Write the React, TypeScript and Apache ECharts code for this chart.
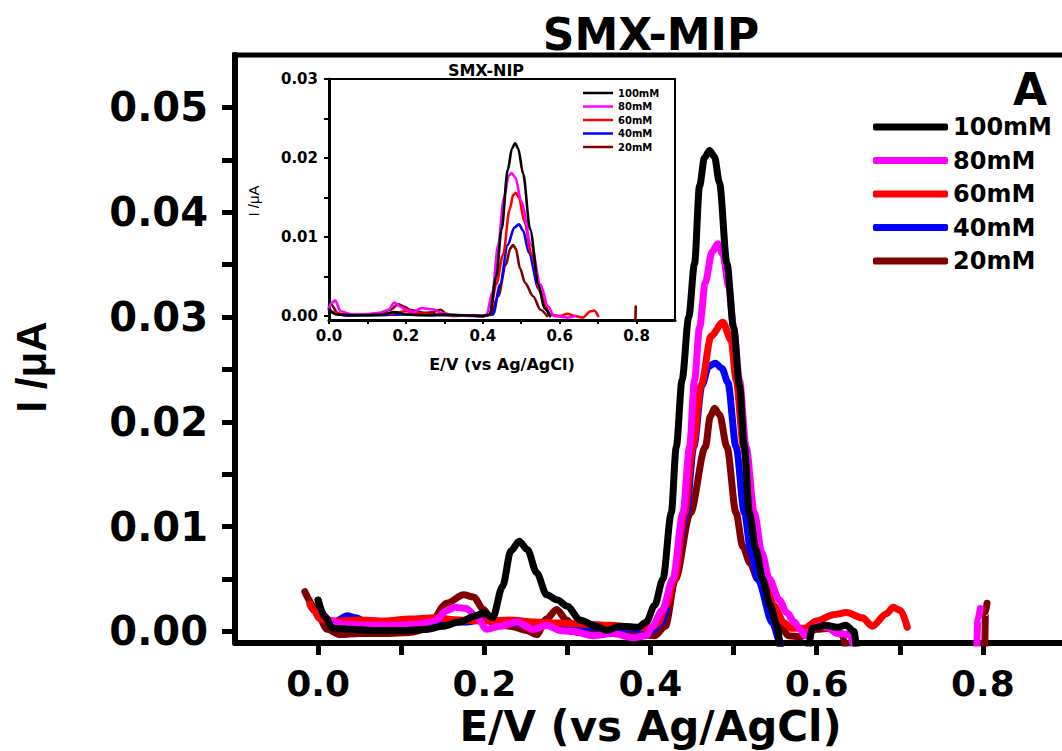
import React, { useEffect, useRef } from "react";
import * as echarts from "echarts";

// ---- Series names / colours ----
const SERIES_NAMES = ["100mM", "80mM", "60mM", "40mM", "20mM"];
const SERIES_COLORS = ["#000000", "#FF00FF", "#FF0000", "#0000FF", "#800000"];

// ---- Main chart (SMX-MIP): [E (V), I (µA)] ----
const mip100: (number | null)[][] = [
  [0.0, 0.003], [0.008, 0.0014], [0.018, 0.0003], [0.04, 0.0002], [0.07, 0.0001], [0.1, 0.0001],
  [0.13, 0.0002], [0.15, 0.0005], [0.17, 0.0009], [0.19, 0.0015], [0.2, 0.0018], [0.21, 0.0013],
  [0.222, 0.0043], [0.232, 0.0077], [0.242, 0.0086], [0.252, 0.0078], [0.263, 0.0056], [0.275, 0.0035],
  [0.288, 0.003], [0.3, 0.0024], [0.315, 0.0011], [0.335, 0.0005], [0.347, 0.0001], [0.363, 0.0005],
  [0.385, 0.0004], [0.395, 0.0009], [0.405, 0.0025], [0.415, 0.005], [0.425, 0.0113], [0.431, 0.0176],
  [0.438, 0.024], [0.446, 0.03], [0.453, 0.0351], [0.459, 0.0425], [0.465, 0.0452], [0.471, 0.0459],
  [0.477, 0.0453], [0.483, 0.0428], [0.492, 0.0351], [0.5, 0.029], [0.507, 0.0235], [0.513, 0.0176],
  [0.519, 0.0113], [0.527, 0.0078], [0.535, 0.005], [0.544, 0.0025], [0.552, 0.0006], [0.56, -0.004],
  [0.585, -0.004], [0.595, 0.0003], [0.61, 0.0006], [0.625, 0.0004], [0.635, 0.0006], [0.645, 0.0],
  [0.65, -0.004],
];
const mip80: (number | null)[][] = [
  [0.003, 0.002], [0.015, 0.001], [0.03, 0.0007], [0.06, 0.0006], [0.09, 0.0006], [0.12, 0.0007],
  [0.14, 0.001], [0.155, 0.002], [0.165, 0.0023], [0.178, 0.0022], [0.19, 0.0015], [0.203, 0.0002],
  [0.219, 0.0005], [0.239, 0.0009], [0.259, 0.0002], [0.275, 0.0006], [0.291, 0.0001], [0.307, 0.0],
  [0.331, -0.0004], [0.355, -0.0002], [0.379, -0.0006], [0.395, -0.0004], [0.402, 0.0005], [0.414, 0.002],
  [0.427, 0.005], [0.439, 0.0113], [0.447, 0.0176], [0.453, 0.024], [0.459, 0.029], [0.466, 0.0333],
  [0.474, 0.0362], [0.481, 0.037], [0.487, 0.036], [0.494, 0.033], [0.5, 0.029], [0.507, 0.024],
  [0.515, 0.0176], [0.525, 0.0113], [0.534, 0.0075], [0.543, 0.005], [0.555, 0.003], [0.564, 0.0018],
  [0.573, 0.0009], [0.58, 0.0002], [0.586, -0.0004], [0.595, 0.0002], [0.603, 0.0006], [0.612, 0.0004],
  [0.625, -0.0002], [0.64, -0.0003], [0.65, -0.004], [0.7, null], [0.792, -0.004], [0.794, 0.0012],
  [0.797, 0.0022],
];
const mip60: (number | null)[][] = [
  [-0.01, 0.0026], [-0.005, 0.002], [0.002, 0.0012], [0.02, 0.001], [0.05, 0.0011], [0.08, 0.001],
  [0.11, 0.0012], [0.14, 0.0013], [0.17, 0.0011], [0.2, 0.001], [0.23, 0.0011], [0.26, 0.0009],
  [0.29, 0.0008], [0.32, 0.0007], [0.35, 0.0006], [0.38, 0.0004], [0.4, 0.0003], [0.409, 0.0008],
  [0.419, 0.0025], [0.429, 0.005], [0.441, 0.0113], [0.451, 0.0176], [0.461, 0.0235], [0.473, 0.0282],
  [0.487, 0.0295], [0.497, 0.0278], [0.503, 0.024], [0.512, 0.0176], [0.521, 0.0113], [0.529, 0.0075],
  [0.537, 0.005], [0.548, 0.0025], [0.561, 0.0008], [0.57, 0.0003], [0.585, 0.0003], [0.6, 0.001],
  [0.62, 0.0016], [0.636, 0.0018], [0.655, 0.0013], [0.667, 0.0005], [0.684, 0.0017], [0.692, 0.0023],
  [0.701, 0.002], [0.709, 0.0004],
];
const mip40: (number | null)[][] = [
  [0.0, 0.003], [0.008, 0.0012], [0.02, 0.0009], [0.035, 0.0015], [0.045, 0.0013], [0.06, 0.0008],
  [0.09, 0.0007], [0.12, 0.0008], [0.15, 0.0009], [0.18, 0.0009], [0.2, 0.0012], [0.23, 0.0008],
  [0.26, 0.0006], [0.29, 0.0006], [0.32, 0.0004], [0.35, 0.0004], [0.38, 0.0002], [0.4, 0.0],
  [0.413, 0.0008], [0.428, 0.005], [0.443, 0.0113], [0.452, 0.0176], [0.462, 0.0235], [0.47, 0.0253],
  [0.478, 0.0256], [0.486, 0.0251], [0.493, 0.0238], [0.503, 0.0176], [0.513, 0.0113], [0.521, 0.0075],
  [0.529, 0.005], [0.547, 0.0008], [0.555, -0.0008], [0.56, -0.004],
];
const mip20: (number | null)[][] = [
  [-0.016, 0.0038], [-0.004, 0.0023], [0.011, 0.0002], [0.026, -0.0003], [0.05, -0.0002], [0.08, -0.0002],
  [0.11, -0.0001], [0.13, 0.0002], [0.155, 0.0027], [0.175, 0.0035], [0.187, 0.0033], [0.199, 0.0021],
  [0.21, 0.0008], [0.231, 0.0005], [0.251, 0.0001], [0.263, -0.0003], [0.275, 0.0012], [0.287, 0.0021],
  [0.299, 0.0011], [0.311, -0.0001], [0.34, -0.0001], [0.37, -0.0002], [0.405, -0.0004], [0.418, 0.0005],
  [0.43, 0.005], [0.448, 0.0113], [0.466, 0.0176], [0.472, 0.0205], [0.477, 0.0213], [0.483, 0.0207],
  [0.492, 0.0176], [0.503, 0.0113], [0.511, 0.0081], [0.52, 0.0065], [0.529, 0.005], [0.547, 0.0018],
  [0.559, 0.0002], [0.566, -0.0004], [0.58, -0.0005], [0.6, 0.0002], [0.615, 0.0003], [0.63, -0.0002],
  [0.64, -0.004], [0.7, null], [0.802, -0.004], [0.803, 0.0018], [0.805, 0.0027],
];

// ---- Inset (SMX-NIP): [E (V), I (µA)] ----
const nip100: (number | null)[][] = [
  [0.0, 0.0008], [0.02, 0.0002], [0.06, 0.0001], [0.1, 0.0001], [0.14, 0.0002], [0.17, 0.0005],
  [0.2, 0.0002], [0.25, 0.0001], [0.3, 0.0002], [0.35, 0.0001], [0.4, 0.0], [0.418, 0.0002],
  [0.435, 0.005], [0.449, 0.011], [0.465, 0.0185], [0.476, 0.0212], [0.484, 0.0219], [0.492, 0.0212],
  [0.505, 0.018], [0.523, 0.011], [0.545, 0.004], [0.56, 0.001], [0.575, 0.0],
];
const nip80: (number | null)[][] = [
  [0.0, 0.001], [0.008, 0.0017], [0.016, 0.002], [0.03, 0.0006], [0.06, 0.0002], [0.1, 0.0002],
  [0.13, 0.0004], [0.155, 0.0008], [0.17, 0.0017], [0.185, 0.0012], [0.2, 0.0008], [0.22, 0.0005],
  [0.24, 0.001], [0.26, 0.0009], [0.275, 0.0008], [0.29, 0.0004], [0.32, 0.0001], [0.36, 0.0001],
  [0.4, 0.0], [0.41, 0.0002], [0.425, 0.003], [0.44, 0.009], [0.455, 0.015], [0.468, 0.0178],
  [0.475, 0.0181], [0.485, 0.0175], [0.5, 0.0145], [0.526, 0.009], [0.55, 0.004], [0.57, 0.0012],
  [0.585, 0.0], [0.62, -0.0002], [0.64, 0.0],
];
const nip60: (number | null)[][] = [
  [0.0, 0.0008], [0.01, 0.0005], [0.04, 0.0002], [0.08, 0.0002], [0.12, 0.0003], [0.16, 0.0003],
  [0.2, 0.0006], [0.24, 0.0003], [0.28, 0.0002], [0.32, 0.0001], [0.36, 0.0001], [0.4, 0.0],
  [0.418, 0.0002], [0.435, 0.004], [0.453, 0.0078], [0.47, 0.0135], [0.479, 0.0153], [0.486, 0.0156],
  [0.494, 0.015], [0.508, 0.012], [0.527, 0.0078], [0.55, 0.003], [0.575, 0.0002], [0.6, 0.0],
  [0.62, 0.0003], [0.64, 0.0], [0.66, -0.0002], [0.68, 0.0006], [0.69, 0.0007], [0.7, 0.0],
];
const nip40: (number | null)[][] = [
  [0.0, 0.001], [0.01, 0.0004], [0.04, 0.0001], [0.1, 0.0001], [0.2, 0.0002], [0.3, 0.0001],
  [0.4, 0.0], [0.427, 0.0002], [0.445, 0.004], [0.465, 0.009], [0.482, 0.0112], [0.494, 0.0116],
  [0.505, 0.0108], [0.52, 0.008], [0.545, 0.0035], [0.565, 0.0008], [0.575, 0.0],
];
const nip20: (number | null)[][] = [
  [0.0, 0.0012], [0.005, 0.0015], [0.025, 0.0002], [0.06, 0.0001], [0.1, 0.0002], [0.13, 0.0003],
  [0.16, 0.0008], [0.18, 0.0015], [0.195, 0.0012], [0.21, 0.0008], [0.25, 0.0004], [0.27, 0.0005],
  [0.29, 0.0008], [0.305, 0.0003], [0.32, 0.0], [0.36, 0.0001], [0.4, 0.0], [0.42, 0.0002],
  [0.44, 0.0025], [0.46, 0.0065], [0.472, 0.0086], [0.479, 0.009], [0.486, 0.0085], [0.497, 0.006],
  [0.51, 0.0042], [0.531, 0.0025], [0.55, 0.0008], [0.567, 0.0], [0.7, null], [0.797, -0.0005],
  [0.798, 0.0012],
];

const MIP_DATA = [mip100, mip80, mip60, mip40, mip20];
const NIP_DATA = [nip100, nip80, nip60, nip40, nip20];

// ---- Ticks / labels ----
const MAIN_X_LABELS = [0, 0.2, 0.4, 0.6, 0.8];
const MAIN_X_TICKS = [0, 0.1, 0.2, 0.3, 0.4, 0.5, 0.6, 0.7, 0.8];
const MAIN_Y_LABELS = [0, 0.01, 0.02, 0.03, 0.04, 0.05];
const MAIN_Y_TICKS = [0, 0.005, 0.01, 0.015, 0.02, 0.025, 0.03, 0.035, 0.04, 0.045, 0.05];
const INSET_X_LABELS = [0, 0.2, 0.4, 0.6, 0.8];
const INSET_X_TICKS = [0, 0.1, 0.2, 0.3, 0.4, 0.5, 0.6, 0.7, 0.8];
const INSET_Y_LABELS = [0, 0.01, 0.02, 0.03];
const INSET_Y_TICKS = [0, 0.005, 0.01, 0.015, 0.02, 0.025, 0.03];

const FONT = "DejaVu Sans";

export default function App() {
  const ref = useRef<HTMLDivElement>(null);

  useEffect(() => {
    if (!ref.current) return;
    const chart = echarts.init(ref.current, undefined, { renderer: "svg" });

    const drawOrder = [4, 3, 2, 1, 0]; // 20mM first, 100mM on top
    const series: any[] = [];
    drawOrder.forEach((i) => {
      series.push({
        name: SERIES_NAMES[i],
        type: "line",
        xAxisIndex: 0,
        yAxisIndex: 0,
        data: MIP_DATA[i],
        showSymbol: false,
        symbol: "none",
        smooth: 0.3,
        smoothMonotone: "x",
        connectNulls: false,
        clip: true,
        color: SERIES_COLORS[i],
        itemStyle: { color: SERIES_COLORS[i] },
        lineStyle: { color: SERIES_COLORS[i], width: 7, cap: "round", join: "round" },
      });
    });
    drawOrder.forEach((i) => {
      series.push({
        name: SERIES_NAMES[i],
        type: "line",
        xAxisIndex: 1,
        yAxisIndex: 1,
        data: NIP_DATA[i],
        showSymbol: false,
        symbol: "none",
        smooth: 0.3,
        smoothMonotone: "x",
        connectNulls: false,
        clip: true,
        color: SERIES_COLORS[i],
        itemStyle: { color: SERIES_COLORS[i] },
        lineStyle: { color: SERIES_COLORS[i], width: 2.6, cap: "round", join: "round" },
      });
    });

    const boldText = (size: number) => ({
      fontFamily: FONT,
      fontWeight: "bold" as const,
      fontSize: size,
      color: "#000",
    });

    chart.setOption({
      animation: false,
      backgroundColor: "#ffffff",
      grid: [
        {
          left: 235,
          top: 55,
          width: 831,
          height: 588,
          show: false,
          containLabel: false,
          outerBoundsMode: "none",
        },
        {
          left: 329,
          top: 79,
          width: 346,
          height: 241,
          show: true,
          borderColor: "#000",
          borderWidth: 2,
          backgroundColor: "#ffffff",
          containLabel: false,
          outerBoundsMode: "none",
        },
      ],
      xAxis: [
        {
          gridIndex: 0,
          type: "value",
          min: -0.1,
          max: 0.9,
          axisLine: { show: true, onZero: false, lineStyle: { color: "#000", width: 6 } },
          axisTick: {
            show: true,
            customValues: MAIN_X_TICKS,
            length: 12,
            lineStyle: { color: "#000", width: 5 },
          },
          axisLabel: {
            show: true,
            customValues: MAIN_X_LABELS,
            formatter: (v: number) => v.toFixed(1),
            margin: 22,
            ...boldText(36),
          },
          splitLine: { show: false },
          name: "E/V (vs Ag/AgCl)",
          nameLocation: "middle",
          nameGap: 62,
          nameTextStyle: boldText(42),
        },
        {
          gridIndex: 1,
          type: "value",
          min: 0,
          max: 0.9,
          axisLine: { show: true, onZero: false, lineStyle: { color: "#000", width: 3 } },
          axisTick: {
            show: true,
            customValues: INSET_X_TICKS,
            length: 4,
            lineStyle: { color: "#000", width: 2 },
          },
          axisLabel: {
            show: true,
            customValues: INSET_X_LABELS,
            formatter: (v: number) => v.toFixed(1),
            margin: 8,
            ...boldText(15),
          },
          splitLine: { show: false },
          name: "E/V (vs Ag/AgCl)",
          nameLocation: "middle",
          nameGap: 36,
          nameTextStyle: boldText(16),
        },
      ],
      yAxis: [
        {
          gridIndex: 0,
          type: "value",
          min: -0.0011,
          max: 0.055,
          axisLine: { show: true, onZero: false, lineStyle: { color: "#000", width: 6 } },
          axisTick: {
            show: true,
            customValues: MAIN_Y_TICKS,
            length: 13,
            lineStyle: { color: "#000", width: 5 },
          },
          axisLabel: {
            show: true,
            customValues: MAIN_Y_LABELS,
            formatter: (v: number) => v.toFixed(2),
            margin: 27,
            ...boldText(40),
          },
          splitLine: { show: false },
        },
        {
          gridIndex: 1,
          type: "value",
          min: -0.0005,
          max: 0.03,
          axisLine: { show: true, onZero: false, lineStyle: { color: "#000", width: 3 } },
          axisTick: {
            show: true,
            customValues: INSET_Y_TICKS,
            length: 5,
            lineStyle: { color: "#000", width: 2 },
          },
          axisLabel: {
            show: true,
            customValues: INSET_Y_LABELS,
            formatter: (v: number) => v.toFixed(2),
            margin: 11,
            ...boldText(15),
          },
          splitLine: { show: false },
        },
      ],
      legend: [
        {
          data: SERIES_NAMES,
          orient: "vertical",
          left: 873,
          top: 115,
          padding: 0,
          itemWidth: 75,
          itemHeight: 7,
          itemGap: 9.5,
          icon: "roundRect",
          selectedMode: false,
          textStyle: { ...boldText(24), lineHeight: 24 },
        },
        {
          data: SERIES_NAMES,
          orient: "vertical",
          left: 583,
          top: 88,
          padding: 0,
          itemWidth: 30,
          itemHeight: 2.5,
          itemGap: 3.5,
          icon: "rect",
          selectedMode: false,
          textStyle: { ...boldText(10), lineHeight: 10 },
        },
      ],
      graphic: [
        {
          // top frame line of the main plot
          type: "line",
          shape: { x1: 232, y1: 55, x2: 1090, y2: 55 },
          style: { stroke: "#000", lineWidth: 5 },
        },
        {
          // keep the cropped right edge of the main plot open
          type: "rect",
          silent: true,
          z: 100,
          shape: { x: 1055, y: 58, width: 40, height: 580 },
          style: { fill: "#ffffff" },
        },
        {
          type: "text",
          x: 651,
          y: 34,
          style: { text: "SMX-MIP", align: "center", verticalAlign: "middle", ...boldText(44), fill: "#000" },
        },
        {
          type: "text",
          x: 486,
          y: 70,
          style: { text: "SMX-NIP", align: "center", verticalAlign: "middle", ...boldText(16), fill: "#000" },
        },
        {
          type: "text",
          x: 1030,
          y: 89,
          style: { text: "A", align: "center", verticalAlign: "middle", ...boldText(44), fill: "#000" },
        },
        {
          type: "text",
          x: 31,
          y: 367,
          rotation: Math.PI / 2,
          style: {
            text: "I /μA",
            align: "center",
            verticalAlign: "middle",
            fontFamily: "Liberation Sans",
            fontWeight: "bold",
            fontSize: 42,
            fill: "#000",
          },
        },
        {
          type: "text",
          x: 253,
          y: 201,
          rotation: Math.PI / 2,
          style: {
            text: "I /μA",
            align: "center",
            verticalAlign: "middle",
            fontFamily: "Liberation Sans",
            fontSize: 15,
            fill: "#000",
          },
        },
      ],
      series,
    });

    return () => {
      chart.dispose();
    };
  }, []);

  return (
    <div
      style={{
        position: "fixed",
        left: 0,
        top: 0,
        width: 1062,
        height: 751,
        overflow: "hidden",
        background: "#fff",
      }}
    >
      <div ref={ref} style={{ width: 1090, height: 751 }} />
    </div>
  );
}
